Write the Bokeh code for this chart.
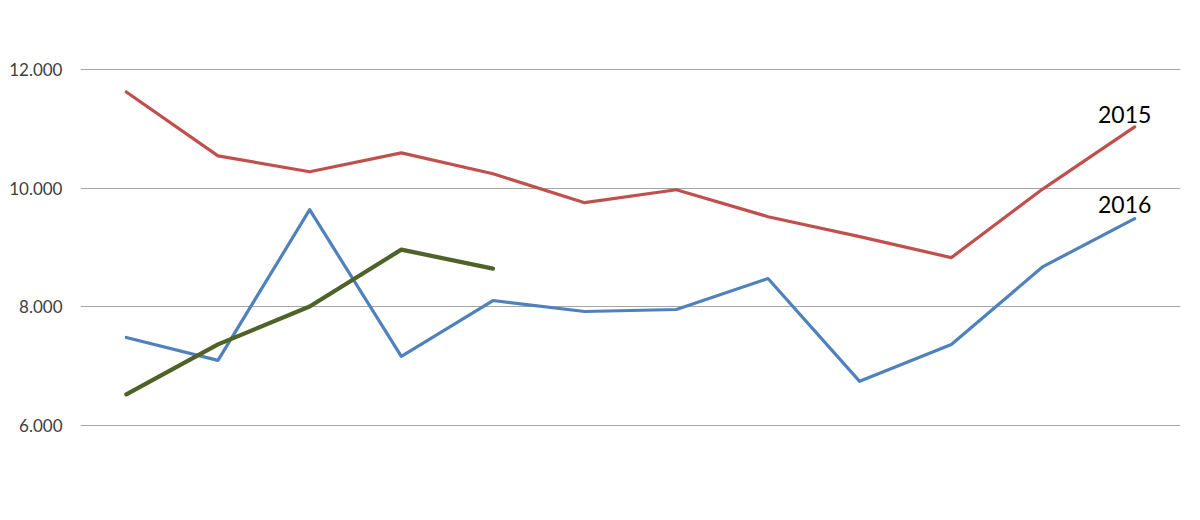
from bokeh.plotting import figure
from bokeh.models import Range1d, FixedTicker
from bokeh.core.properties import value
from bokeh.embed import file_html
from bokeh.resources import INLINE

months = list(range(12))
series_names = ["2015", "2016", "2017"]
values_2015 = [11625, 10547, 10278, 10598, 10244, 9756, 9975, 9520, 9183, 8829, 9990, 11036]
values_2016 = [7482, 7095, 9638, 7162, 8105, 7920, 7954, 8476, 6741, 7364, 8678, 9486]
values_2017 = [6522, 7364, 8004, 8964, 8644]
y_ticks = [6000, 8000, 10000, 12000]
y_tick_labels = ["6.000", "8.000", "10.000", "12.000"]

p = figure(width=1184, height=504, output_backend="svg", toolbar_location=None,
           x_range=Range1d(-0.5, 11.5), y_range=Range1d(5000, 13000),
           min_border_left=80, min_border_right=4, min_border_top=10, min_border_bottom=20)
p.outline_line_color = None
p.background_fill_color = "white"
p.border_fill_color = "white"

p.xaxis.visible = False
p.xgrid.visible = False

p.yaxis.ticker = FixedTicker(ticks=y_ticks)
p.yaxis.major_label_overrides = {t: l for t, l in zip(y_ticks, y_tick_labels)}
p.yaxis.axis_line_color = None
p.yaxis.major_tick_line_color = None
p.yaxis.minor_tick_line_color = None
p.yaxis.major_tick_out = 0
p.yaxis.major_tick_in = 0
p.yaxis.major_label_standoff = 18
p.yaxis.major_label_text_font = "Lato"
p.yaxis.major_label_text_font_size = "17px"
p.yaxis.major_label_text_color = "#404040"
p.ygrid.ticker = FixedTicker(ticks=y_ticks)
p.ygrid.grid_line_color = "#A6A6A6"
p.ygrid.grid_line_width = 1

p.line(months, values_2015, line_color="#C0504D", line_width=3.2, line_join="round", line_cap="round")
p.line(months, values_2016, line_color="#4F81BD", line_width=3.2, line_join="round", line_cap="round")
p.line(months[:len(values_2017)], values_2017, line_color="#4F6228", line_width=4.2,
       line_join="round", line_cap="round")

p.text(x=[months[-1], months[-1]], y=[values_2015[-1], values_2016[-1]],
       text=series_names[:2], x_offset=-10, y_offset=[-4, -6],
       text_align="center", text_baseline="bottom",
       text_font=value("Lato"), text_font_size="23px", text_color="#000000")

open("out.html", "w").write(file_html(p, INLINE))
